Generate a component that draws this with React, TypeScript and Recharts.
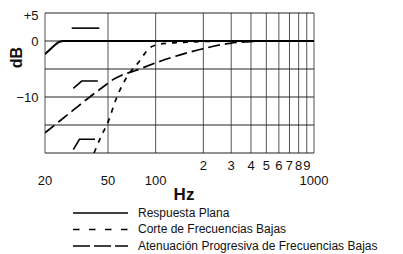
import React from 'react';
import { LineChart, Line, XAxis, YAxis, CartesianGrid, Legend, Label } from 'recharts';

// Frequency response (Hz) / level (dB)
const flatFreq = [20, 21, 22, 23, 24, 25, 26, 1000];
const flatDb = [-2.35, -1.8, -1.25, -0.75, -0.35, -0.08, 0, 0];

const cutFreq = [40.8, 45.3, 50, 56, 62, 69, 78, 85, 92, 105, 120, 150, 200, 300, 1000];
const cutDb = [-20, -17, -14.5, -10.5, -7.7, -5.6, -3.8, -2.3, -1.2, -0.6, -0.4, -0.25, -0.1, 0, 0];

const rollFreq = [20, 25, 30, 38.5, 50, 54, 60, 74, 108, 150, 196, 294, 400, 502, 1000];
const rollDb = [-16.4, -14.2, -12.4, -9.95, -7.55, -6.85, -6.2, -5.3, -3.57, -2.3, -1.43, -0.41, -0.1, 0, 0];

// switch-position glyphs drawn inside the plot
const symFlatFreq = [29.5, 44.1];
const symFlatDb = [2.3, 2.3];
const symRollFreq = [30.2, 34.1, 43.1];
const symRollDb = [-8.45, -7.15, -7.15];
const symCutFreq = [30.2, 33.0, 41.4];
const symCutDb = [-19.4, -17.55, -17.55];

const xTicks = [20, 50, 100, 200, 300, 400, 500, 600, 700, 800, 900, 1000];
const xTickLabels = ['20', '50', '100', '2', '3', '4', '5', '6', '7', '8', '9', '1000'];
const yTicks = [5, 0, -5, -10, -15, -20];
const yTickLabels = ['+5', '0', '', '\u221210', '', ''];

const seriesNames = ['Respuesta Plana', 'Corte de Frecuencias Bajas', 'Atenuación Progresiva de Frecuencias Bajas'];

const zip = (fs: number[], vs: number[]) => fs.map((f, i) => ({ f, v: vs[i] }));

const FONT = '"Liberation Sans", Arial, Helvetica, sans-serif';

const XTick = (props: any) => {
  const { x, y, payload } = props;
  const idx = xTicks.indexOf(payload.value);
  const label = idx >= 0 ? xTickLabels[idx] : '';
  const upper = label.length === 1;
  return (
    <text x={x} y={y + (upper ? 17 : 32)} textAnchor="middle" fontSize={13} fontFamily={FONT} fill="#111">
      {label}
    </text>
  );
};

const YTick = (props: any) => {
  const { x, y, payload } = props;
  const idx = yTicks.indexOf(payload.value);
  const label = idx >= 0 ? yTickLabels[idx] : '';
  const extra = payload.value === 5 ? 2.5 : 0;
  return (
    <text x={x - 6.5} y={y + 4.5 + extra} textAnchor="end" fontSize={13} fontFamily={FONT} fill="#111">
      {label}
    </text>
  );
};

const legendDashes = [undefined, '6.5 9.5', '17 4'];

const renderLegend = () => (
  <svg width={403} height={254} style={{ display: 'block' }}>
    {seriesNames.map((name, i) => {
      const cy = 213 + i * 16.5;
      return (
        <g key={name}>
          <line x1={73} x2={128} y1={cy} y2={cy} stroke="#000" strokeWidth={1.6} strokeDasharray={legendDashes[i]} />
          <text x={138} y={cy + 3.6} fontSize={12} fontFamily={FONT} fill="#111">
            {name}
          </text>
        </g>
      );
    })}
  </svg>
);

export default function App() {
  return (
    <div style={{ position: 'absolute', left: 0, top: 0, width: 403, height: 254, background: '#fff' }}>
      <LineChart width={403} height={254} margin={{ top: 13, right: 89, bottom: 0, left: 0 }}>
        <CartesianGrid horizontal={false} vertical={true} stroke="#555" strokeWidth={1} />
        <CartesianGrid horizontal={true} vertical={false} stroke="#222" strokeWidth={1} />
        <XAxis
          type="number"
          dataKey="f"
          scale="log"
          domain={[20, 1000]}
          ticks={xTicks}
          allowDataOverflow
          height={101}
          axisLine={false}
          tickLine={false}
          tickSize={0}
          tickMargin={0}
          tick={<XTick />}
          interval={0}
        >
          <Label
            content={(p: any) => {
              const vb = p.viewBox || { x: 45, y: 153 };
              return (
                <text x={vb.x + 139} y={vb.y + 47} textAnchor="middle" fontSize={17} fontWeight="bold" fontFamily={FONT} fill="#111">
                  Hz
                </text>
              );
            }}
          />
        </XAxis>
        <YAxis
          type="number"
          domain={[-20, 5]}
          ticks={yTicks}
          allowDataOverflow
          width={45}
          axisLine={false}
          tickLine={false}
          tickSize={0}
          tickMargin={0}
          tick={<YTick />}
          interval={0}
        >
          <Label
            content={(p: any) => {
              const vb = p.viewBox || { x: 0, y: 13 };
              const cx = vb.x + 16.7;
              const cy = vb.y + 44.5;
              return (
                <text x={cx} y={cy} transform={`rotate(-90 ${cx} ${cy})`} textAnchor="middle" dominantBaseline="central" fontSize={16} fontWeight="bold" fontFamily={FONT} fill="#111">
                  dB
                </text>
              );
            }}
          />
        </YAxis>
        <Line data={zip(symFlatFreq, symFlatDb)} dataKey="v" type="linear" stroke="#000" strokeWidth={1.6} dot={false} activeDot={false} isAnimationActive={false} legendType="none" />
        <Line data={zip(symRollFreq, symRollDb)} dataKey="v" type="linear" stroke="#000" strokeWidth={1.6} dot={false} activeDot={false} isAnimationActive={false} legendType="none" />
        <Line data={zip(symCutFreq, symCutDb)} dataKey="v" type="linear" stroke="#000" strokeWidth={1.6} dot={false} activeDot={false} isAnimationActive={false} legendType="none" />
        <Line name={seriesNames[2]} data={zip(rollFreq, rollDb)} dataKey="v" type="monotone" stroke="#000" strokeWidth={1.7} strokeDasharray="12 5" dot={false} activeDot={false} isAnimationActive={false} />
        <Line name={seriesNames[1]} data={zip(cutFreq, cutDb)} dataKey="v" type="monotone" stroke="#000" strokeWidth={1.7} strokeDasharray="5 6" dot={false} activeDot={false} isAnimationActive={false} />
        <Line name={seriesNames[0]} data={zip(flatFreq, flatDb)} dataKey="v" type="monotone" stroke="#000" strokeWidth={2} dot={false} activeDot={false} isAnimationActive={false} />
        <Legend
          layout="vertical"
          align="center"
          verticalAlign="middle"
          content={renderLegend}
          wrapperStyle={{ position: 'absolute', left: 0, top: 0, width: 403, height: 254, pointerEvents: 'none' }}
        />
      </LineChart>
    </div>
  );
}
